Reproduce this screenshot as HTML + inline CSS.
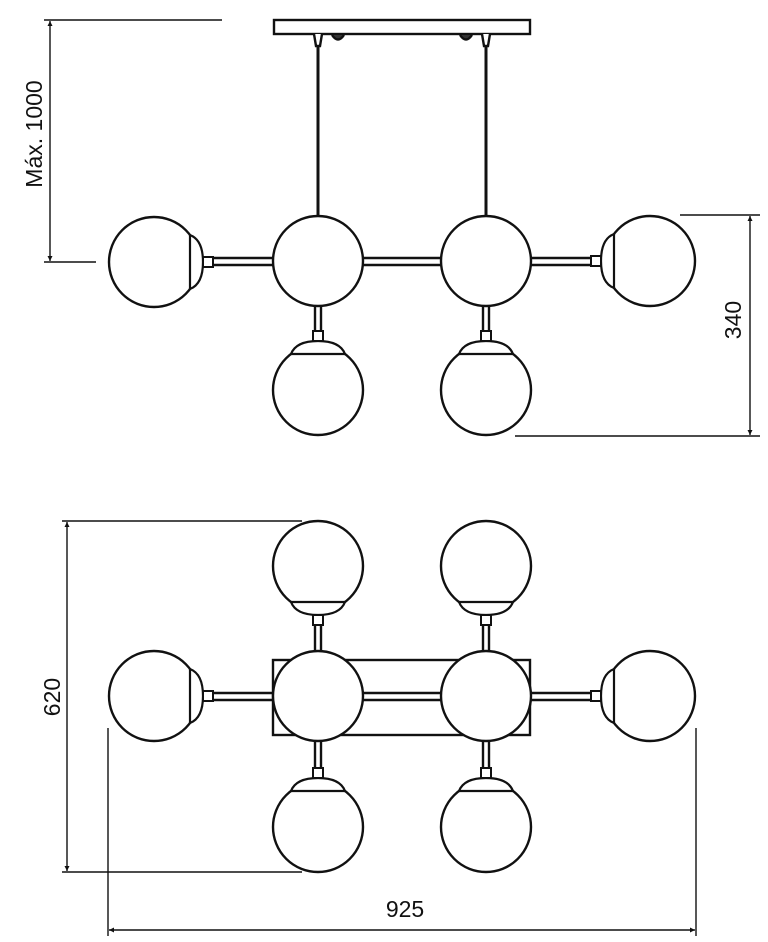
<!DOCTYPE html>
<html><head><style>html,body{margin:0;padding:0;background:#fff}svg{display:block}</style></head>
<body>
<svg width="768" height="942" viewBox="0 0 768 942" xmlns="http://www.w3.org/2000/svg">
<defs>
<g id="cap">
  <path d="M-27,-36 Q-22,-49 0,-49 Q22,-49 27,-36 Z" fill="#fff" stroke="#111" stroke-width="2.2"/>
  <rect x="-5" y="-59" width="10" height="10" fill="#fff" stroke="#111" stroke-width="2"/>
</g>
<marker id="ar" viewBox="0 0 10 10" refX="10" refY="5" markerWidth="5" markerHeight="12" orient="auto-start-reverse" markerUnits="userSpaceOnUse"><path d="M0,0 L10,5 L0,10 Z" fill="#111"/></marker>
</defs>
<g fill="none" stroke="#111" stroke-width="2.4">
<!-- TOP VIEW -->
<rect x="274" y="20" width="256" height="14" fill="#fff"/>
<line x1="318" y1="40" x2="318" y2="216" stroke-width="3"/>
<line x1="486" y1="40" x2="486" y2="216" stroke-width="3"/>
<path d="M314,34 L316,46 L320,46 L322,34" fill="#fff"/>
<path d="M482,34 L484,46 L488,46 L490,34" fill="#fff"/>
<path d="M332,35 Q338,44 344,35" fill="#333"/>
<path d="M460,35 Q466,44 472,35" fill="#333"/>
<line x1="211" y1="258" x2="273" y2="258"/><line x1="211" y1="265" x2="273" y2="265"/>
<line x1="363" y1="258" x2="441" y2="258"/><line x1="363" y1="265" x2="441" y2="265"/>
<line x1="531" y1="258" x2="595" y2="258"/><line x1="531" y1="265" x2="595" y2="265"/>
<line x1="315" y1="306" x2="315" y2="336"/><line x1="321" y1="306" x2="321" y2="336"/>
<line x1="483" y1="306" x2="483" y2="336"/><line x1="489" y1="306" x2="489" y2="336"/>
<circle cx="154" cy="262" r="45" fill="#fff"/>
<circle cx="650" cy="261" r="45" fill="#fff"/>
<circle cx="318" cy="261" r="45" fill="#fff"/>
<circle cx="486" cy="261" r="45" fill="#fff"/>
<circle cx="318" cy="390" r="45" fill="#fff"/>
<circle cx="486" cy="390" r="45" fill="#fff"/>
<use href="#cap" transform="translate(154,262) rotate(90)"/>
<use href="#cap" transform="translate(650,261) rotate(-90)"/>
<use href="#cap" transform="translate(318,390)"/>
<use href="#cap" transform="translate(486,390)"/>

<!-- BOTTOM VIEW -->
<rect x="273" y="660" width="257" height="75" fill="#fff"/>
<line x1="211" y1="693" x2="273" y2="693"/><line x1="211" y1="700" x2="273" y2="700"/>
<line x1="363" y1="693" x2="441" y2="693"/><line x1="363" y1="700" x2="441" y2="700"/>
<line x1="531" y1="693" x2="595" y2="693"/><line x1="531" y1="700" x2="595" y2="700"/>
<line x1="315" y1="622" x2="315" y2="651"/><line x1="321" y1="622" x2="321" y2="651"/>
<line x1="483" y1="622" x2="483" y2="651"/><line x1="489" y1="622" x2="489" y2="651"/>
<line x1="315" y1="741" x2="315" y2="772"/><line x1="321" y1="741" x2="321" y2="772"/>
<line x1="483" y1="741" x2="483" y2="772"/><line x1="489" y1="741" x2="489" y2="772"/>
<circle cx="154" cy="696" r="45" fill="#fff"/>
<circle cx="650" cy="696" r="45" fill="#fff"/>
<circle cx="318" cy="696" r="45" fill="#fff"/>
<circle cx="486" cy="696" r="45" fill="#fff"/>
<circle cx="318" cy="566" r="45" fill="#fff"/>
<circle cx="486" cy="566" r="45" fill="#fff"/>
<circle cx="318" cy="827" r="45" fill="#fff"/>
<circle cx="486" cy="827" r="45" fill="#fff"/>
<use href="#cap" transform="translate(154,696) rotate(90)"/>
<use href="#cap" transform="translate(650,696) rotate(-90)"/>
<use href="#cap" transform="translate(318,566) rotate(180)"/>
<use href="#cap" transform="translate(486,566) rotate(180)"/>
<use href="#cap" transform="translate(318,827)"/>
<use href="#cap" transform="translate(486,827)"/>
</g>

<!-- DIMENSIONS -->
<g stroke="#111" stroke-width="1.4" fill="none">
<line x1="44" y1="20" x2="222" y2="20"/>
<line x1="44" y1="262" x2="96" y2="262"/>
<line x1="50" y1="21" x2="50" y2="261" marker-start="url(#ar)" marker-end="url(#ar)"/>
<line x1="680" y1="215" x2="760" y2="215"/>
<line x1="515" y1="436" x2="760" y2="436"/>
<line x1="750" y1="216" x2="750" y2="435" marker-start="url(#ar)" marker-end="url(#ar)"/>
<line x1="62" y1="521" x2="302" y2="521"/>
<line x1="62" y1="872" x2="302" y2="872"/>
<line x1="67" y1="522" x2="67" y2="871" marker-start="url(#ar)" marker-end="url(#ar)"/>
<line x1="108" y1="728" x2="108" y2="936"/>
<line x1="696" y1="728" x2="696" y2="936"/>
<line x1="109" y1="930" x2="695" y2="930" marker-start="url(#ar)" marker-end="url(#ar)"/>
</g>
<g font-family="Liberation Sans, sans-serif" font-size="23" fill="#111" text-anchor="middle">
<text transform="translate(42,134) rotate(-90)">Máx. 1000</text>
<text transform="translate(741,320) rotate(-90)">340</text>
<text transform="translate(60,697) rotate(-90)">620</text>
<text x="405" y="917">925</text>
</g>
</svg>
</body></html>
